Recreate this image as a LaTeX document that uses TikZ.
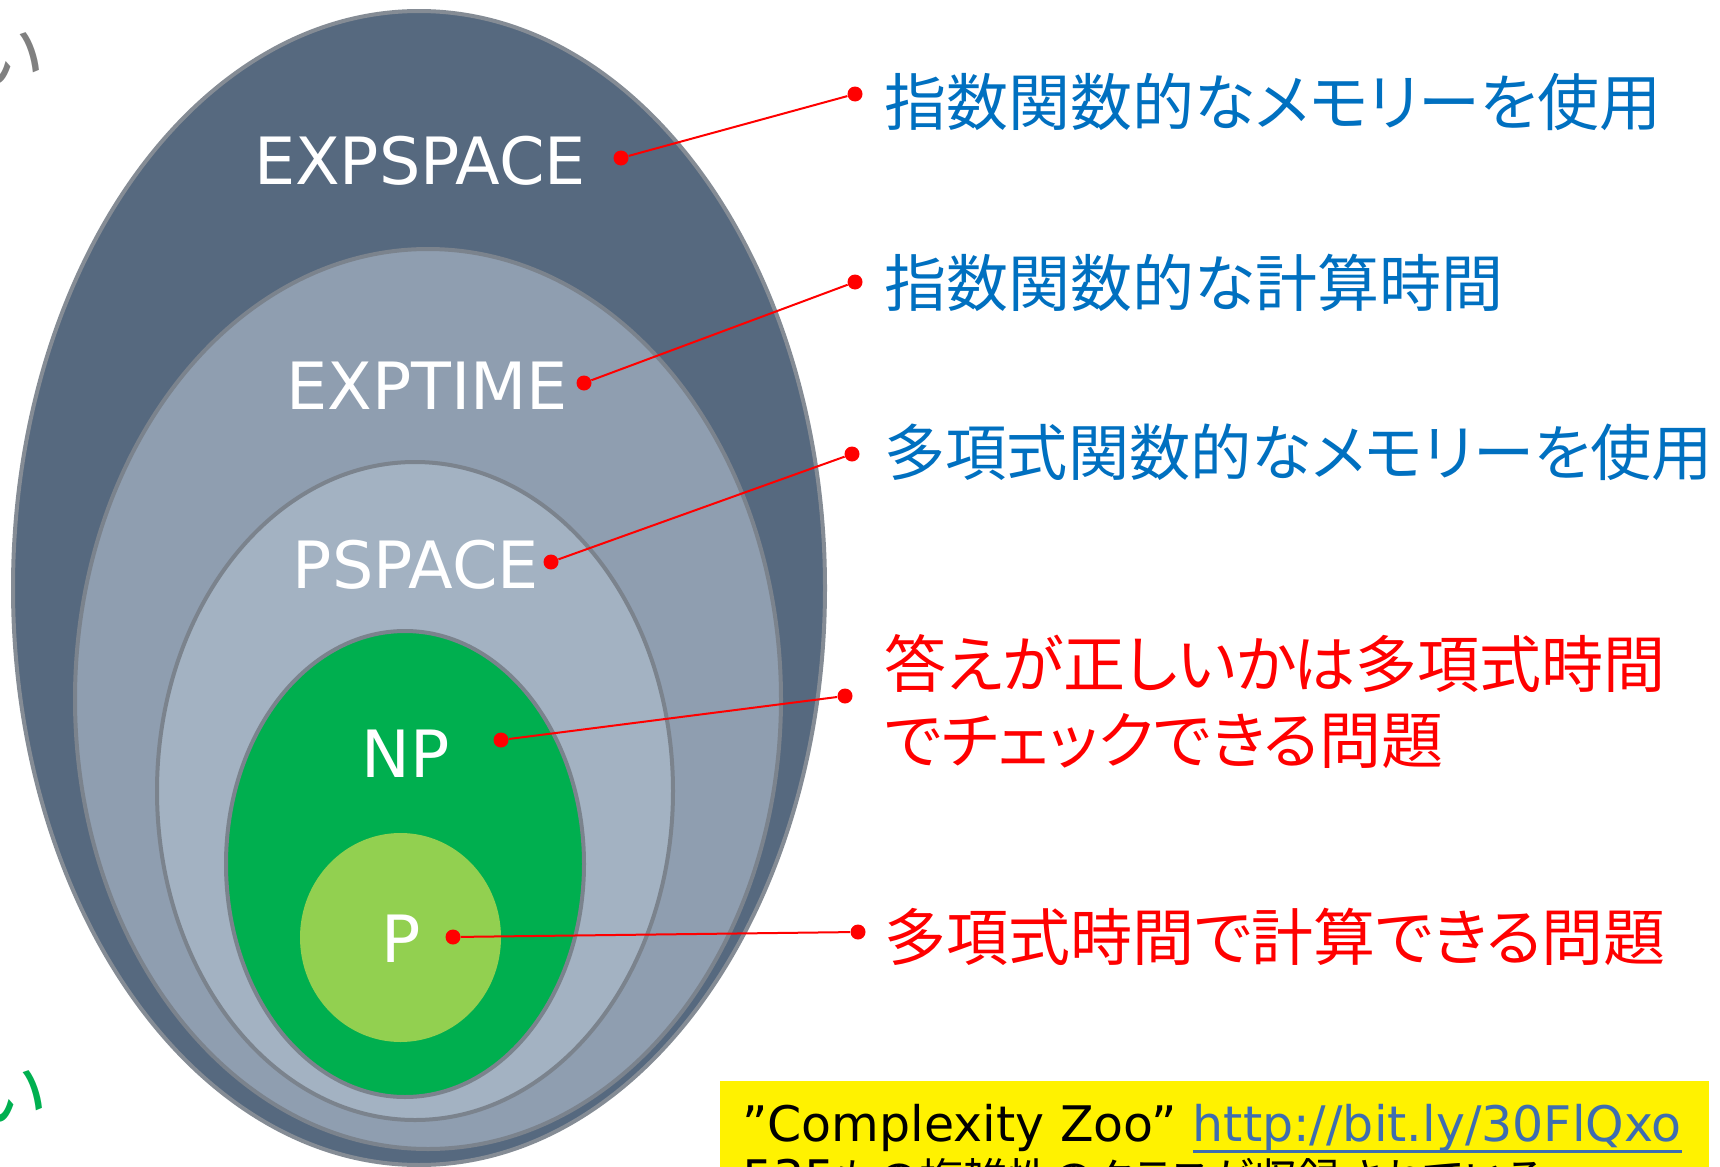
\documentclass[tikz,border=0pt]{standalone}
\usepackage{fontspec}
\setmainfont{DejaVu Sans}
\newfontfamily\jp[RawFeature=+palt]{Noto Sans CJK JP}
\newfontfamily\jpfull{Noto Sans CJK JP}
\newcommand\myul[1]{\setbox0\hbox{#1}\rlap{\raisebox{-6pt}{\rule{\wd0}{1.6pt}}}\box0}
\usetikzlibrary{shapes.geometric}
\definecolor{cOuter}{HTML}{56697F}
\definecolor{cExpT}{HTML}{8F9EB0}
\definecolor{cPsp}{HTML}{A3B2C2}
\definecolor{cNP}{HTML}{00AF4F}
\definecolor{cP}{HTML}{92D050}
\definecolor{cBorder}{HTML}{7B838D}
\definecolor{cBorderOut}{HTML}{858C95}
\definecolor{cBlue}{HTML}{0070C0}
\definecolor{cLink}{HTML}{3E6DB0}
\definecolor{cGreenTxt}{HTML}{00B050}
\begin{document}
\begin{tikzpicture}[x=0.5pt,y=-0.5pt,
  cls/.style={ellipse, draw=cBorder, line width=2pt, inner sep=0pt},
  lbl/.style={text=white, font=\fontsize{32.6}{38}\selectfont, inner sep=0pt},
  dot/.style={circle, fill=red, inner sep=0pt, minimum size=7.5pt},
  conn/.style={red, line width=1pt},
  desc/.style={anchor=west, inner sep=0pt, font=\jp\fontsize{31}{38}\selectfont, align=left},
  frag/.style={inner sep=0pt, font=\jpfull\fontsize{38}{44}\selectfont}
]
\useasboundingbox (0,0) rectangle (1720,1167);
\clip (0,0) rectangle (1720,1167);
\fill[white] (0,0) rectangle (1720,1167);

% cut-off characters at the left edge
\node[frag, text=gray] (fragtop) at (7,57) {い};
\node[frag, text=cGreenTxt] (fragbot) at (11,1095) {い};

% nested classes
\node[cls, fill=cOuter, draw=cBorderOut, minimum width=406pt, minimum height=577pt] (expspace) at (419,588) {};
\node[cls, fill=cExpT, minimum width=353pt, minimum height=450pt] (exptime) at (428,699) {};
\node[cls, fill=cPsp, minimum width=258pt, minimum height=329pt] (pspace) at (415,791) {};
\node[cls, fill=cNP, minimum width=179pt, minimum height=233pt] (np) at (405,864) {};
\node[ellipse, fill=cP, inner sep=0pt, minimum width=100.5pt, minimum height=104.5pt] (p) at (400.5,937.5) {};

% class labels
\node[lbl] (lexpspace) at (420,161) {EXPSPACE};
\node[lbl] (lexptime) at (427,386) {EXPTIME};
\node[lbl] (lpspace) at (416,565) {PSPACE};
\node[lbl] (lnp) at (406,754) {NP};
\node[lbl] (lp) at (401,939) {P};

% dots
\node[dot] (d1a) at (621,158) {};
\node[dot] (d1b) at (855,94) {};
\node[dot] (d2a) at (584,383) {};
\node[dot] (d2b) at (855,282) {};
\node[dot] (d3a) at (551,562) {};
\node[dot] (d3b) at (852,454) {};
\node[dot] (d4a) at (501,740) {};
\node[dot] (d4b) at (845,696) {};
\node[dot] (d5a) at (453,937) {};
\node[dot] (d5b) at (858,932) {};

\draw[conn] (d1a) -- (d1b);
\draw[conn] (d2a) -- (d2b);
\draw[conn] (d3a) -- (d3b);
\draw[conn] (d4a) -- (d4b);
\draw[conn] (d5a) -- (d5b);

% descriptions
\node[desc, text=cBlue] (t1) at (884,102) {指数関数的なメモリーを使用};
\node[desc, text=cBlue] (t2) at (884,283) {指数関数的な計算時間};
\node[desc, text=cBlue, font=\jp\fontsize{30.6}{38}\selectfont] (t3) at (884,452) {多項式関数的なメモリーを使用};
\node[desc, text=red] (t4) at (884,702) {答えが正しいかは多項式時間\\でチェックできる問題};
\node[desc, text=red] (t5) at (884,937) {多項式時間で計算できる問題};

% Complexity Zoo box
\fill[yellow] (720,1081) rectangle (1709,1220);
\node[anchor=base west, inner sep=0pt, font=\fontsize{24.5}{30}\selectfont] (zoo1) at (742,1141)
  {”Complexity Zoo” \textcolor{cLink}{\myul{http://bit.ly/30FlQxo}}};
\node[anchor=base west, inner sep=0pt, font=\fontsize{24.5}{30}\selectfont] (zoo2) at (742,1195)
  {535{\jp\fontsize{22}{26}\selectfont もの複雑性のクラスが収録されている}};
\end{tikzpicture}
\end{document}
